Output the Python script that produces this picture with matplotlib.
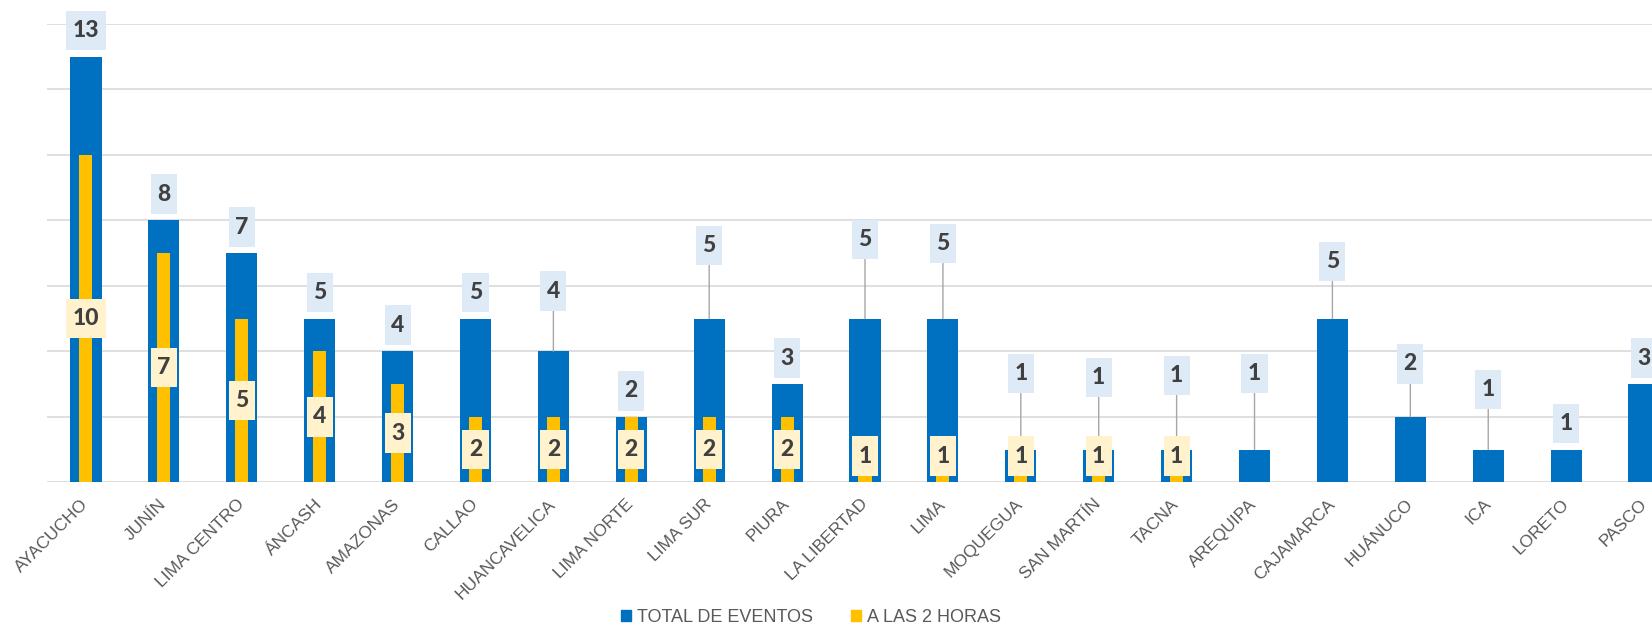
import matplotlib.pyplot as plt
from matplotlib.patches import Patch

# Datos del gráfico
regiones = ['AYACUCHO', 'JUNÍN', 'LIMA CENTRO', 'ÁNCASH', 'AMAZONAS', 'CALLAO',
            'HUANCAVELICA', 'LIMA NORTE', 'LIMA SUR', 'PIURA', 'LA LIBERTAD', 'LIMA',
            'MOQUEGUA', 'SAN MARTÍN', 'TACNA', 'AREQUIPA', 'CAJAMARCA', 'HUÁNUCO',
            'ICA', 'LORETO', 'PASCO']
total_eventos = [13, 8, 7, 5, 4, 5, 4, 2, 5, 3, 5, 5, 1, 1, 1, 1, 5, 2, 1, 1, 3]
a_las_2_horas = [10, 7, 5, 4, 3, 2, 2, 2, 2, 2, 1, 1, 1, 1, 1, 0, 0, 0, 0, 0, 0]

# separación (px) entre el tope de la barra y el centro de la etiqueta azul
subida_etiqueta = [26, 26, 26, 26, 26, 26, 60, 26, 73, 26, 79, 75, 76, 72, 74, 76,
                   57, 53, 60, 26, 26]

AZUL = '#0070C0'
AMARILLO = '#FFC000'
TEXTO = '#404040'

fig = plt.figure(figsize=(16.52, 6.25), dpi=100)
# el eje se sale por la derecha, como en la imagen original (recortada)
ax = fig.add_axes([47 / 1652, 142.7 / 625, 1636 / 1652, 458.5 / 625])

x = list(range(len(regiones)))
ax.bar(x, total_eventos, width=0.4, color=AZUL, zorder=2)
ax.bar(x, a_las_2_horas, width=0.167, color=AMARILLO, zorder=3)

ax.set_xlim(-0.5, len(regiones) - 0.5)
ax.set_ylim(0, 14)
ax.set_yticks(range(0, 15, 2))
ax.set_yticklabels([])
ax.tick_params(axis='y', length=0)
ax.grid(axis='y', color='#D9D9D9', lw=1.2, zorder=0)
ax.set_axisbelow(True)
for s in ax.spines.values():
    s.set_visible(False)

ax.set_xticks(x)
ax.set_xticklabels(regiones, rotation=45, ha='right', va='center',
                   rotation_mode='anchor', fontsize=12.5, color='#595959',
                   family='Liberation Sans')
ax.tick_params(axis='x', length=0, pad=14)

caja_azul = dict(boxstyle='square,pad=0.28', fc='#DEEBF7', ec='none', mutation_aspect=1.45)
caja_amar = dict(boxstyle='square,pad=0.28', fc='#FFF2CC', ec='none', mutation_aspect=1.45)

for i, (v, sube) in enumerate(zip(total_eventos, subida_etiqueta)):
    flecha = None
    if sube > 40:
        flecha = dict(arrowstyle='-', color='#A6A6A6', lw=1, shrinkA=0, shrinkB=0)
    ax.annotate(str(v), xy=(i, v), xytext=(0, sube), textcoords='offset pixels',
                ha='center', va='center', fontsize=16.5, fontweight='black',
                family='Lato', color=TEXTO, bbox=caja_azul, arrowprops=flecha,
                zorder=4)

for i, v in enumerate(a_las_2_horas):
    if v == 0:
        continue
    ax.text(i, max(v / 2, 0.8), str(v), ha='center', va='center', fontsize=16.5,
            fontweight='black', family='Lato', color=TEXTO, bbox=caja_amar, zorder=5)

handles = [Patch(color=AZUL), Patch(color=AMARILLO)]
fig.legend(handles, ['TOTAL DE EVENTOS', 'A LAS 2 HORAS'], loc='center',
           bbox_to_anchor=(811 / 1652, 1 - 617 / 625), ncol=2, frameon=False,
           prop={'family': 'Liberation Sans', 'size': 13}, labelcolor='#595959',
           handlelength=0.55, handleheight=0.55, handletextpad=0.33,
           columnspacing=2.1)

fig.savefig('out.png', dpi=100)
